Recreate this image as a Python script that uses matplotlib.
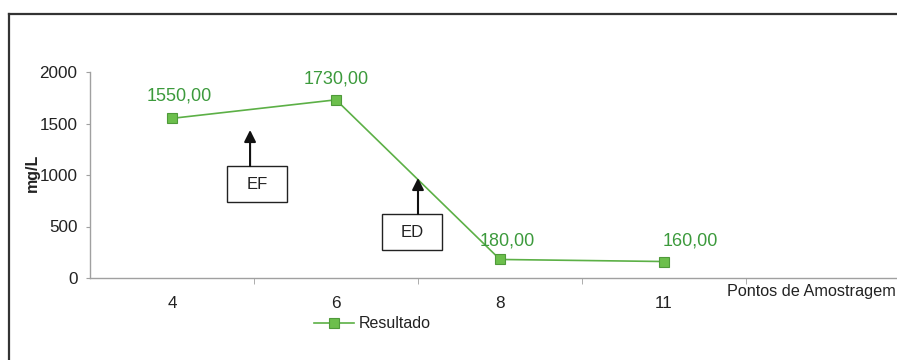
import matplotlib
matplotlib.use("Agg")
import matplotlib.pyplot as plt
from matplotlib.lines import Line2D
from matplotlib.patches import Rectangle

plt.rcParams['font.family'] = ['Liberation Sans', 'DejaVu Sans']

# Data
pontos = ['4', '6', '8', '11']
resultado = [1550.00, 1730.00, 180.00, 160.00]
y_ticks = [0, 500, 1000, 1500, 2000]
serie_nome = 'Resultado'

line_color = '#5cb046'
marker_face = '#6cbf4c'
marker_edge = '#4f9a3a'
label_color = '#3c9a3c'
text_color = '#222222'
axis_color = '#a0a0a0'

fig = plt.figure(figsize=(8.97, 3.6), dpi=100)
ax = fig.add_axes([90 / 897, 1 - 278 / 360, 1 - 90 / 897, (278 - 72) / 360])

x = list(range(len(pontos)))
ax.plot(x, resultado, color=line_color, lw=1.2, marker='s', markersize=7,
        markerfacecolor=marker_face, markeredgecolor=marker_edge,
        markeredgewidth=0.8, label=serie_nome, zorder=3)

# value labels above each point
offsets = [(7, 14), (0, 12), (7, 10), (26, 12)]
for xi, yi, off in zip(x, resultado, offsets):
    ax.annotate(f"{yi:.2f}".replace('.', ','), (xi, yi), xytext=off,
                textcoords='offset pixels', ha='center', va='bottom',
                color=label_color, fontsize=13)

ax.set_xlim(-0.5, -0.5 + (897 - 90) / 164)
ax.set_ylim(0, 2000)
ax.set_yticks(y_ticks)
ax.set_yticklabels([str(v) for v in y_ticks])
ax.set_xticks(x)
ax.set_xticklabels(pontos)
ax.set_xticks([i + 0.5 for i in range(4)], minor=True)

ax.tick_params(axis='y', length=3, color=axis_color, labelsize=12.3,
               labelcolor=text_color, pad=6)
ax.tick_params(axis='x', which='major', length=0, labelsize=12.3,
               labelcolor=text_color, pad=13)
ax.tick_params(axis='x', which='minor', length=4, color=axis_color,
               direction='out')

for side in ['top', 'right']:
    ax.spines[side].set_visible(False)
for side in ['left', 'bottom']:
    ax.spines[side].set_color(axis_color)
    ax.spines[side].set_linewidth(1.0)

ax.set_ylabel('mg/L', fontsize=11.5, fontweight='bold', color=text_color)
ax.yaxis.set_label_coords(-0.062, 0.51)

# annotation boxes with arrows
def boxed_arrow(label, x0, x1, y0, y1, ax_x, arrow_top):
    ax.add_patch(Rectangle((x0, y0), x1 - x0, y1 - y0, fill=True,
                           facecolor='white', edgecolor='#222222', lw=1.0,
                           zorder=4, clip_on=False))
    ax.text((x0 + x1) / 2, (y0 + y1) / 2, label, ha='center', va='center',
            fontsize=12, color=text_color, zorder=5)
    ax.annotate('', xy=(ax_x, arrow_top), xytext=(ax_x, y1),
                arrowprops=dict(arrowstyle='-|>,head_length=0.7,head_width=0.35',
                                color='#111111', lw=1.5, shrinkA=0, shrinkB=0),
                zorder=5)

boxed_arrow('EF', 0.335, 0.70, 738, 1087, 0.476, 1437)
boxed_arrow('ED', 1.28, 1.646, 272, 621, 1.5, 971)

ax.text(0.998, -0.03, 'Pontos de Amostragem', transform=ax.transAxes,
        ha='right', va='top', fontsize=11.7, color=text_color)

leg = fig.legend(loc='center', bbox_to_anchor=(372 / 897, 1 - 324 / 360),
                 frameon=False, fontsize=11.5, handlelength=2.5,
                 handletextpad=0.3)
for t in leg.get_texts():
    t.set_color(text_color)

# outer frame lines
fig.add_artist(Line2D([9 / 897, 1.0], [1 - 14 / 360, 1 - 14 / 360],
                      color='#333333', lw=1.6, transform=fig.transFigure))
fig.add_artist(Line2D([9 / 897, 9 / 897], [0, 1 - 14 / 360],
                      color='#333333', lw=1.6, transform=fig.transFigure))

fig.savefig('out.png', dpi=100)
